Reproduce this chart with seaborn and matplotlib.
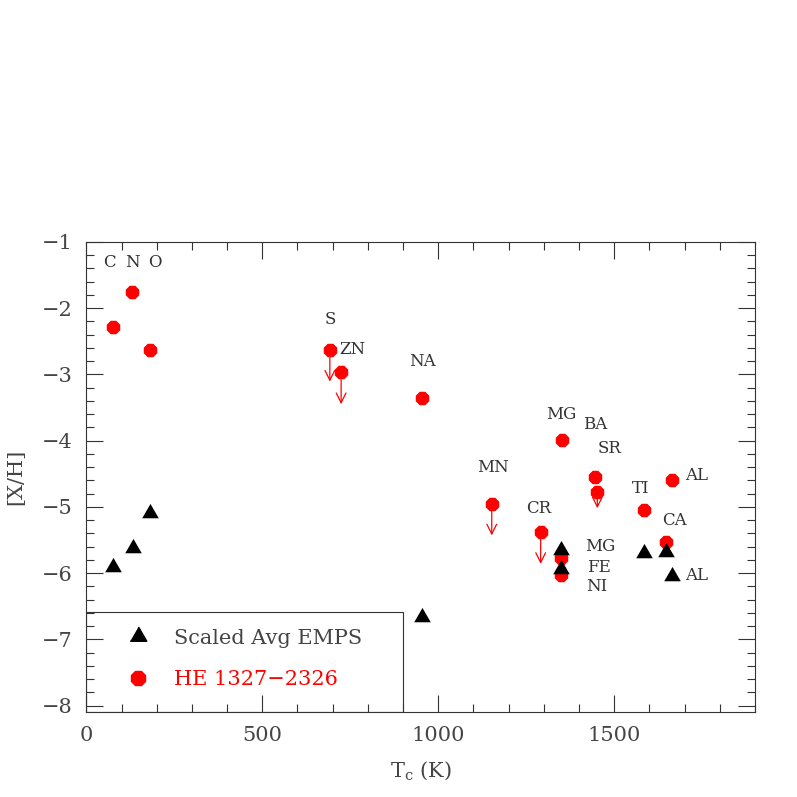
import matplotlib
matplotlib.use('Agg')
import matplotlib.pyplot as plt
import seaborn as sns
import pandas as pd
from matplotlib.patches import Rectangle
from matplotlib.lines import Line2D
from matplotlib.ticker import MultipleLocator

# ---------------- data ----------------
he_elements = ['C', 'N', 'O', 'S', 'ZN', 'NA', 'MN', 'CR', 'MG', 'FE', 'NI', 'BA', 'SR', 'TI', 'CA', 'AL']
he_tc = [76, 130, 181, 692, 724, 954, 1152, 1291, 1351, 1350, 1350, 1445, 1452, 1584, 1647, 1665]
he_xh = [-2.29, -1.76, -2.63, -2.63, -2.97, -3.36, -4.95, -5.38, -3.99, -5.77, -6.03, -4.55, -4.78, -5.05, -5.53, -4.59]
he_upper = [0, 0, 0, 0.48, 0.48, 0, 0.48, 0.48, 0, 0, 0, 0, 0.24, 0, 0, 0]

emps_elements = ['C', 'N', 'O', 'NA', 'MG', 'FE', 'TI', 'CA', 'AL']
emps_tc = [76, 134, 181, 955, 1349, 1349, 1584, 1647, 1665]
emps_xh = [-5.91, -5.62, -5.09, -6.66, -5.65, -5.94, -5.69, -5.68, -6.04]

label_text = ['C', 'N', 'O', 'S', 'ZN', 'NA', 'MN', 'CR', 'MG', 'BA', 'SR', 'TI', 'CA', 'AL', 'MG', 'FE', 'NI', 'AL']
label_x = [67, 130, 195, 692, 757, 956, 1155, 1286, 1350, 1445, 1486, 1576, 1670, 1734, 1459, 1457, 1450, 1734]
label_y = [-1.32, -1.32, -1.32, -2.17, -2.62, -2.81, -4.41, -5.02, -3.61, -3.76, -4.12, -4.72, -5.21, -4.53, -5.60, -5.92, -6.20, -6.04]

series_names = ['Scaled Avg EMPS', 'HE 1327\u22122326']

# ---------------- style ----------------
sns.set_style('ticks')
plt.rcParams['font.family'] = ['DejaVu Serif']
plt.rcParams['mathtext.fontset'] = 'dejavuserif'

he_df = pd.DataFrame({'el': he_elements, 'tc': he_tc, 'xh': he_xh, 'up': he_upper})
emps_df = pd.DataFrame({'el': emps_elements, 'tc': emps_tc, 'xh': emps_xh})

fig = plt.figure(figsize=(7.97, 7.97), dpi=100)
ax = fig.add_axes([0.1083, 0.107, 0.839, 0.5897])

# red circles (HE 1327-2326)
sns.scatterplot(data=he_df, x='tc', y='xh', ax=ax, marker='8', s=110,
                color='red', edgecolor='red', linewidth=0, zorder=3, legend=False)

# upper-limit arrows
for _, r in he_df[he_df['up'] > 0].iterrows():
    ax.annotate('', xy=(r['tc'], r['xh'] - r['up']), xytext=(r['tc'], r['xh']),
                arrowprops=dict(arrowstyle='->,head_length=0.7,head_width=0.35',
                                color='red', lw=0.9, shrinkA=0, shrinkB=0,
                                mutation_scale=10), zorder=2)

# black triangles (Scaled Avg EMPS)
tri = [(-1, -0.577), (1, -0.577), (0, 1.155)]
sns.scatterplot(data=emps_df, x='tc', y='xh', ax=ax, marker=tri, s=190,
                color='black', edgecolor='black', linewidth=0, zorder=4, legend=False)

# element labels
for t, x, y in zip(label_text, label_x, label_y):
    ax.text(x, y, t, ha='center', va='center', fontsize=12, color='#333333')

# axes
ax.set_xlim(0, 1900)
ax.set_ylim(-8.09, -1)
ax.xaxis.set_major_locator(MultipleLocator(500))
ax.xaxis.set_minor_locator(MultipleLocator(100))
ax.yaxis.set_major_locator(MultipleLocator(1))
ax.yaxis.set_minor_locator(MultipleLocator(0.2))
ax.tick_params(which='both', direction='in', top=True, right=True,
               color='#333333', width=0.8, labelsize=15, labelcolor='#444444')
ax.tick_params(which='major', length=12, pad=10)
ax.tick_params(which='minor', length=6)
for sp in ax.spines.values():
    sp.set_visible(True)
    sp.set_linewidth(0.8)
    sp.set_color('#333333')

ax.set_xlabel('T$_\\mathrm{c}$ (K)', fontsize=15, color='#444444', labelpad=11)
ax.set_ylabel('[X/H]', fontsize=15, color='#444444', labelpad=12)

# legend box
ax.add_patch(Rectangle((0, 0), 0.474, 0.212, transform=ax.transAxes, fill=False,
                       edgecolor='#333333', linewidth=0.8, zorder=5))
handles = [Line2D([], [], linestyle='none', marker=tri, markersize=13.8, color='black'),
           Line2D([], [], linestyle='none', marker='8', markersize=10.5, color='red')]
leg = ax.legend(handles, series_names, loc='lower left', bbox_to_anchor=(0.062, 0.048),
                frameon=False, fontsize=15, handlelength=1.0, handletextpad=1.2,
                borderpad=0, borderaxespad=0, labelspacing=1.08)
leg.get_texts()[0].set_color('#444444')
leg.get_texts()[1].set_color('red')

fig.savefig('out.png', dpi=100)
